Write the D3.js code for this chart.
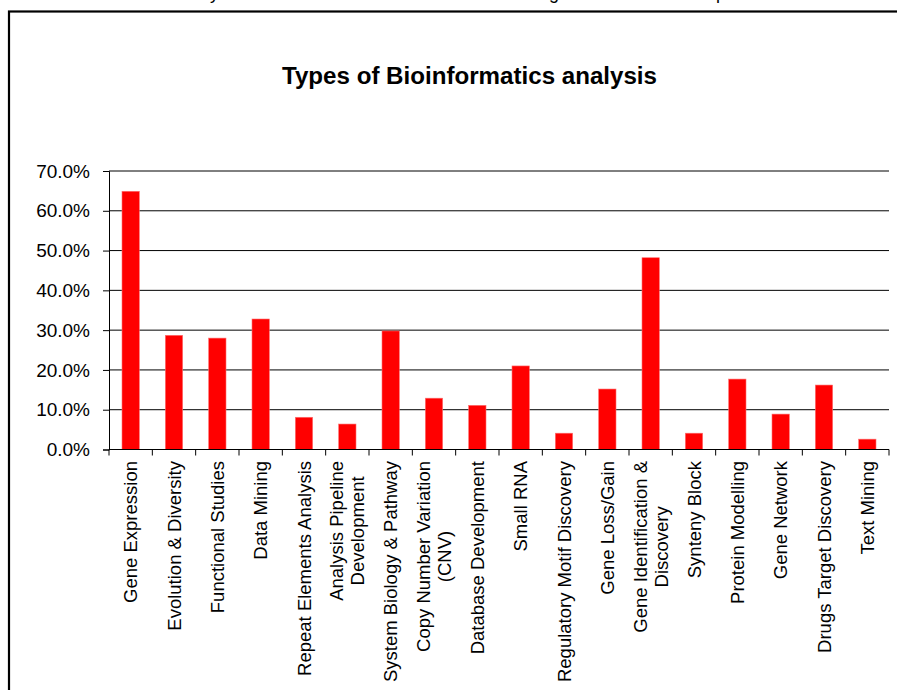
<!DOCTYPE html>
<html>
<head>
<meta charset="utf-8">
<script src="https://cdn.jsdelivr.net/npm/d3@7"></script>
<style>
  html, body { margin: 0; padding: 0; background: #fff; }
  svg { display: block; font-family: "Liberation Sans", Arial, sans-serif; }
</style>
</head>
<body>
<svg id="chart" width="897" height="690"></svg>
<script>
const categories = [
  "Gene Expression", "Evolution & Diversity", "Functional Studies", "Data Mining",
  "Repeat Elements Analysis", "Analysis Pipeline|Development", "System Biology & Pathway",
  "Copy Number Variation|(CNV)", "Database Development", "Small RNA",
  "Regulatory Motif Discovery", "Gene Loss/Gain", "Gene Identification &|Discovery",
  "Synteny Block", "Protein Modelling", "Gene Network", "Drugs Target Discovery", "Text Mining"
];
const values = [64.9, 28.7, 28.0, 32.8, 8.1, 6.4, 29.8, 12.9, 11.1, 21.0, 4.1, 15.2, 48.2, 4.1, 17.7, 8.9, 16.2, 2.6];
const yTicks = [0, 10, 20, 30, 40, 50, 60, 70];
const title = "Types of Bioinformatics analysis";
const clippedCaption = [{ch: "y", x: 210}, {ch: "g", x: 549}, {ch: "p", x: 716}];

(function () {
const svg = d3.select("#chart");
const plotL = 109, plotR = 889, plotB = 449.5, plotT = 171;

// clipped caption fragments from above frame
svg.selectAll("text.cap").data(clippedCaption).join("text")
  .attr("class", "cap").attr("x", d => d.x).attr("y", -1)
  .attr("font-size", 18).attr("fill", "#000").text(d => d.ch);

// frame
svg.append("rect").attr("x", 9).attr("y", 11.5).attr("width", 1000).attr("height", 1000)
  .attr("fill", "none").attr("stroke", "#000").attr("stroke-width", 2.2);

const x = d3.scaleBand().domain(categories).range([plotL, plotR])
  .paddingInner(0.6).paddingOuter(0.3);
const y = d3.scaleLinear().domain([0, 70]).range([plotB, plotT]);

// gridlines
svg.append("g").selectAll("line").data(yTicks).join("line")
  .attr("x1", plotL).attr("x2", plotR)
  .attr("y1", d => y(d)).attr("y2", d => y(d))
  .attr("stroke", "#000").attr("stroke-width", 1);

// bars
svg.append("g").selectAll("rect").data(categories).join("rect")
  .attr("x", d => x(d)).attr("width", x.bandwidth())
  .attr("y", (d, i) => y(values[i])).attr("height", (d, i) => y(0) - y(values[i]))
  .attr("fill", "#ff0000").attr("stroke", "#ff7070").attr("stroke-width", 0.6);

// y axis
const yAxis = svg.append("g").attr("transform", `translate(${plotL},0)`)
  .call(d3.axisLeft(y).tickValues(yTicks).tickSize(6).tickPadding(13)
    .tickFormat(d => d.toFixed(1) + "%"));
yAxis.select(".domain").attr("stroke", "#000");
yAxis.selectAll(".tick line").attr("stroke", "#000");
yAxis.selectAll(".tick text").attr("font-size", 19).attr("fill", "#000")
  .attr("font-family", "Liberation Sans, Arial, sans-serif");

// x axis line and tick marks at category boundaries
svg.append("line").attr("x1", plotL).attr("x2", plotR).attr("y1", plotB).attr("y2", plotB)
  .attr("stroke", "#000");
svg.append("g").selectAll("line").data(d3.range(categories.length + 1)).join("line")
  .attr("x1", i => x.range()[0] + i * x.step())
  .attr("x2", i => x.range()[0] + i * x.step())
  .attr("y1", plotB).attr("y2", plotB + 6).attr("stroke", "#000");

// x labels
const fs = 18.5, lineH = 21, labelTop = 461;
const lg = svg.append("g");
categories.forEach(c => {
  const lines = c.split("|");
  const cx = x(c) + x.bandwidth() / 2;
  const g = lg.append("g");
  const texts = lines.map(l => g.append("text").attr("font-size", fs).attr("fill", "#000").text(l));
  const maxLen = d3.max(texts, t => t.node().getComputedTextLength());
  const cy = labelTop + maxLen / 2;
  texts.forEach((t, k) => {
    const off = (k - (lines.length - 1) / 2) * lineH + fs * 0.36;
    t.attr("text-anchor", "middle")
     .attr("transform", `translate(${cx + off},${cy}) rotate(-90)`);
  });
});

// title
svg.append("text").attr("x", 469.5).attr("y", 83.5).attr("text-anchor", "middle")
  .attr("font-size", 23.5).attr("font-weight", "bold").attr("fill", "#000")
  .attr("textLength", 375).attr("lengthAdjust", "spacingAndGlyphs")
  .text(title);
})();
</script>
</body>
</html>
